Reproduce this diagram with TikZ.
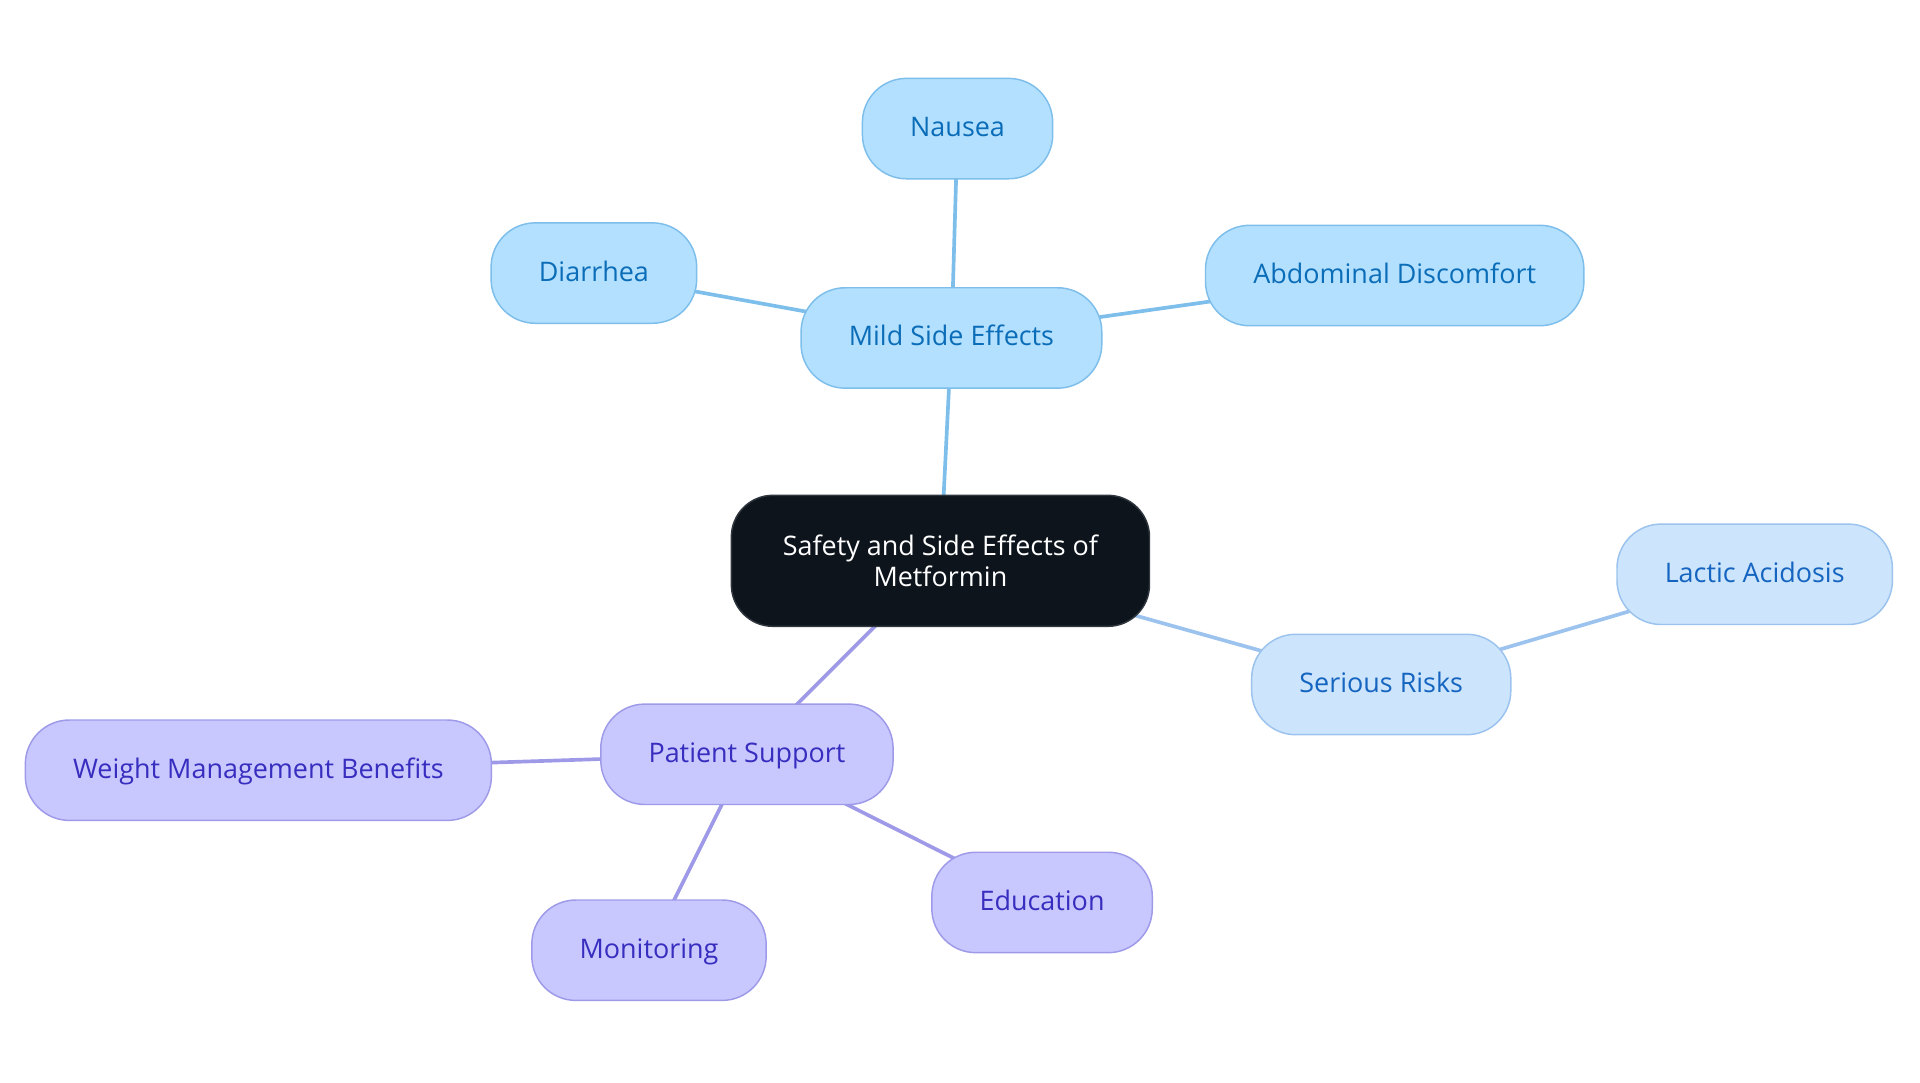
\documentclass[tikz,border=0pt]{standalone}
\usepackage{fontspec}
\setmainfont{Open Sans}
\usetikzlibrary{backgrounds}

\definecolor{rootfill}{RGB}{13,20,28}
\definecolor{rootdraw}{RGB}{48,54,62}
\definecolor{mildfill}{RGB}{179,224,254}
\definecolor{milddraw}{RGB}{125,190,235}
\definecolor{mildtext}{RGB}{11,109,184}
\definecolor{riskfill}{RGB}{204,228,252}
\definecolor{riskdraw}{RGB}{155,195,238}
\definecolor{risktext}{RGB}{21,101,192}
\definecolor{carefill}{RGB}{200,200,255}
\definecolor{caredraw}{RGB}{158,154,232}
\definecolor{caretext}{RGB}{55,45,190}

\begin{document}
\begin{tikzpicture}[x=0.5pt,y=-0.5pt]

\tikzset{root/.style={fill=rootfill,draw=rootdraw,line width=0.6pt,text=white,rounded corners=17pt,align=center,inner xsep=21pt,minimum height=53.5pt,font=\fontsize{11}{13}\selectfont},
topic/.style={line width=0.6pt,rounded corners=18pt,inner xsep=19.5pt,minimum height=41pt,text height=8.5pt,text depth=2pt,font=\fontsize{11}{13}\selectfont},
mild/.style={topic,fill=mildfill,draw=milddraw,text=mildtext},
risk/.style={topic,fill=riskfill,draw=riskdraw,text=risktext},
care/.style={topic,fill=carefill,draw=caredraw,text=caretext},
mildlink/.style={draw=milddraw,line width=1.5pt},
risklink/.style={draw=riskdraw,line width=1.5pt},
carelink/.style={draw=caredraw,line width=1.5pt}}

\useasboundingbox (0,0) rectangle (1568,884);

% Central topic
\node (root) [root] at (768,458) {Safety and Side Effects of\\Metformin};

% Mild side effects
\node (mild) [mild] at (777,276) {Mild Side Effects};
\node (nausea) [mild] at (782,105) {Nausea};
\node (diarrhea) [mild] at (485,223) {Diarrhea};
\node (abdomen) [mild] at (1139,225) {Abdominal Discomfort};

% Serious risks
\node (risks) [risk] at (1128,559) {Serious Risks};
\node (lactic) [risk] at (1433,469) {Lactic Acidosis};

% Patient support
\node (support) [care] at (610,616) {Patient Support};
\node (weight) [care] at (211,629) {Weight Management Benefits};
\node (monitor) [care] at (530,776) {Monitoring};
\node (educate) [care] at (851,737) {Education};

% Links between topics
\begin{scope}[on background layer]
\path (root.center) edge [mildlink] (mild.center);
\path (mild.center) edge [mildlink] (nausea.center);
\path (mild.center) edge [mildlink] (diarrhea.center);
\path (mild.center) edge [mildlink] (abdomen.center);
\path (root.center) edge [risklink] (risks.center);
\path (risks.center) edge [risklink] (lactic.center);
\path (root.center) edge [carelink] (support.center);
\path (support.center) edge [carelink] (weight.center);
\path (support.center) edge [carelink] (monitor.center);
\path (support.center) edge [carelink] (educate.center);
\end{scope}

\end{tikzpicture}
\end{document}
